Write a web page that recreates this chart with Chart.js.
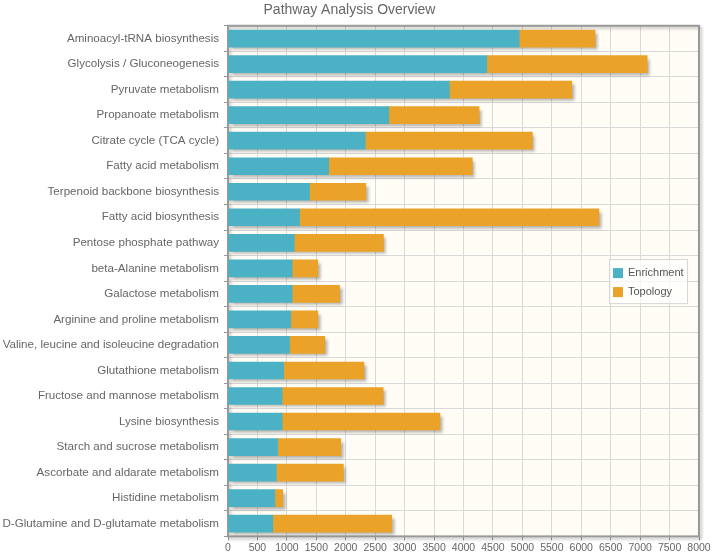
<!DOCTYPE html>
<html>
<head>
<meta charset="utf-8">
<title>Pathway Analysis Overview</title>
<script src="https://cdn.jsdelivr.net/npm/chart.js@4.4.1/dist/chart.umd.min.js"></script>
<style>
    html, body { margin: 0; padding: 0; background: #ffffff; }
    #wrap { width: 714px; height: 560px; }
</style>
</head>
<body>
<div id="wrap"><canvas id="chart" width="714" height="560"></canvas></div>
<script>
// Pathway names, top to bottom
const pathways = [
    'Aminoacyl-tRNA biosynthesis',
    'Glycolysis / Gluconeogenesis',
    'Pyruvate metabolism',
    'Propanoate metabolism',
    'Citrate cycle (TCA cycle)',
    'Fatty acid metabolism',
    'Terpenoid backbone biosynthesis',
    'Fatty acid biosynthesis',
    'Pentose phosphate pathway',
    'beta-Alanine metabolism',
    'Galactose metabolism',
    'Arginine and proline metabolism',
    'Valine, leucine and isoleucine degradation',
    'Glutathione metabolism',
    'Fructose and mannose metabolism',
    'Lysine biosynthesis',
    'Starch and sucrose metabolism',
    'Ascorbate and aldarate metabolism',
    'Histidine metabolism',
    'D-Glutamine and D-glutamate metabolism'
];

// Stacked segments
const enrichment = [4945, 4395, 3760, 2730, 2330, 1710, 1385, 1215, 1125, 1090,
                    1090, 1065, 1045, 945, 920, 920, 845, 820, 795, 760];
const topology   = [1290, 2725, 2080, 1535, 2840, 2440, 955, 5085, 1515, 435,
                    805, 460, 600, 1365, 1715, 2680, 1070, 1140, 135, 2020];

const xTicks = { min: 0, max: 8000, step: 500 };

const colors = {
    enrichment: '#4bb2c5',
    topology: '#eaa228',
    plotBg: '#fffdf6',
    grid: '#d9d9d9',
    frame: '#999999',
    text: '#666666'
};

const fontFamily = '"Liberation Sans", Arial, sans-serif';

// Cream plot background, grey frame and the bar drop shadows
const plotFrame = {
    id: 'plotFrame',
    beforeDraw: function(chart) {
        const a = chart.chartArea;
        const ctx = chart.ctx;
        ctx.save();
        ctx.fillStyle = colors.plotBg;
        ctx.fillRect(a.left, a.top, a.right - a.left, a.bottom - a.top);
        ctx.restore();
    },
    beforeDatasetsDraw: function(chart) {
        const a = chart.chartArea;
        const ctx = chart.ctx;
        ctx.save();
        ctx.shadowColor = 'rgba(0,0,0,0.25)';
        ctx.shadowOffsetX = 2;
        ctx.shadowOffsetY = 2;
        ctx.shadowBlur = 3;
        ctx.strokeStyle = colors.frame;
        ctx.lineWidth = 2;
        ctx.strokeRect(a.left, a.top, a.right - a.left, a.bottom - a.top);
        ctx.restore();

        // one shadow per stacked bar, taken from the bar elements themselves
        const first = chart.getDatasetMeta(0).data;
        const last = chart.getDatasetMeta(chart.data.datasets.length - 1).data;
        const far = 10000;
        ctx.save();
        ctx.shadowColor = 'rgba(0,0,0,0.3)';
        ctx.shadowOffsetX = far + 3;
        ctx.shadowOffsetY = 3;
        ctx.shadowBlur = 3;
        ctx.fillStyle = '#000';
        first.forEach(function(bar, i) {
            const end = last[i];
            const x0 = Math.min(bar.base, bar.x);
            const x1 = Math.max(end.x, bar.x);
            const h = bar.height;
            ctx.fillRect(x0 - far, bar.y - h / 2, x1 - x0, h);
        });
        ctx.restore();
    }
};

// Legend box inside the plot, right side, vertically centred
const insideLegend = {
    id: 'insideLegend',
    afterDraw: function(chart) {
        const a = chart.chartArea;
        const ctx = chart.ctx;
        const w = 78, h = 44;
        const x = a.right - 12 - w;
        const y = (a.top + a.bottom) / 2 - h / 2;
        ctx.save();
        ctx.fillStyle = 'rgba(255,255,255,0.7)';
        ctx.fillRect(x, y, w, h);
        ctx.strokeStyle = '#d6d6d6';
        ctx.lineWidth = 1;
        ctx.strokeRect(x + 0.5, y + 0.5, w, h);
        ctx.font = '11px ' + fontFamily;
        ctx.textBaseline = 'middle';
        chart.data.datasets.forEach(function(ds, i) {
            const rowY = y + 14 + i * 19;
            ctx.fillStyle = ds.backgroundColor;
            ctx.fillRect(x + 4, rowY - 5, 10, 10);
            ctx.fillStyle = '#555555';
            ctx.fillText(ds.label, x + 19, rowY);
        });
        ctx.restore();
    }
};

const ctx = document.getElementById('chart').getContext('2d');

new Chart(ctx, {
    type: 'bar',
    data: {
        labels: pathways,
        datasets: [
            { label: 'Enrichment', data: enrichment, backgroundColor: colors.enrichment },
            { label: 'Topology', data: topology, backgroundColor: colors.topology }
        ]
    },
    options: {
        indexAxis: 'y',
        responsive: false,
        animation: false,
        events: [],
        layout: { padding: { left: 0, right: 15, top: 0, bottom: 5 } },
        datasets: {
            bar: { barThickness: 17, borderWidth: 0 }
        },
        plugins: {
            legend: { display: false },
            tooltip: { enabled: false },
            title: {
                display: true,
                text: 'Pathway Analysis Overview',
                color: colors.text,
                font: { family: fontFamily, size: 14, weight: 'normal' },
                padding: { top: 2, bottom: 7 }
            }
        },
        scales: {
            x: {
                stacked: true,
                min: xTicks.min,
                max: xTicks.max,
                grid: { color: colors.grid, tickColor: colors.frame, tickLength: 4 },
                border: { display: false },
                ticks: {
                    stepSize: xTicks.step,
                    autoSkip: false,
                    maxRotation: 0,
                    padding: 1,
                    color: colors.text,
                    font: { family: fontFamily, size: 10.5 },
                    callback: function(value) { return String(value); }
                }
            },
            y: {
                stacked: true,
                grid: { color: colors.grid, tickColor: colors.frame, tickLength: 4, offset: true },
                border: { display: false },
                ticks: {
                    autoSkip: false,
                    padding: 5,
                    color: colors.text,
                    font: { family: fontFamily, size: 11.6 }
                },
                afterFit: function(scale) {
                    scale.width = 228;
                }
            }
        }
    },
    plugins: [plotFrame, insideLegend]
});
</script>
</body>
</html>
